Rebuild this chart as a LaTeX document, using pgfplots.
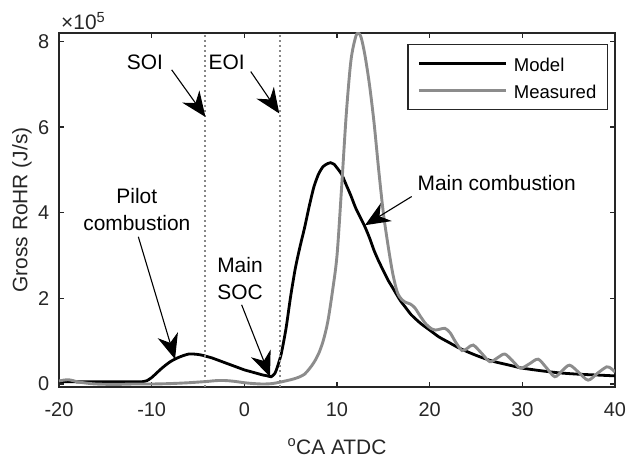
\documentclass[border=0pt]{standalone}
\usepackage{fontspec}
\setmainfont{Liberation Sans}
\usepackage{pgfplots}
\pgfplotsset{compat=1.18}
\usetikzlibrary{arrows.meta}
\definecolor{axc}{HTML}{262626}
\definecolor{meas}{RGB}{140,140,140}
\definecolor{dotc}{RGB}{135,135,135}
\begin{document}
\fontsize{21}{26.7}\selectfont
\begin{tikzpicture}
\useasboundingbox (-59bp,-77bp) rectangle (567bp,387bp);
\begin{axis}[
  scale only axis, width=556bp, height=354bp,
  xmin=-20, xmax=40, ymin=-0.07, ymax=8.2,
  xtick={-20,-10,...,40}, ytick={0,2,4,6,8},
  tick pos=both, tick align=inside, major tick length=5bp,
  axis line style={axc, line width=1.6bp},
  every tick/.style={axc, line width=1.4bp},
  /pgf/number format/assume math mode=true,
  ticklabel style={font=\fontsize{20}{24}\selectfont, text=axc},
  xticklabel style={yshift=-8.5bp},
  yticklabel style={xshift=-2.5bp},
  xlabel={\textsuperscript{o}CA ATDC},
  ylabel={Gross RoHR (J/s)},
  every axis x label/.style={at={(axis description cs:0.5,-0.168)}, anchor=center, font=\fontsize{21}{24}\selectfont, text=axc},
  every axis y label/.style={at={(axis description cs:-0.0665,0.5)}, anchor=center, rotate=90, font=\fontsize{21}{24}\selectfont, text=axc},
  legend cell align=left,
  legend style={at={(rel axis cs:0.988,0.969)}, anchor=north east, draw=axc, line width=1.4bp,
    inner xsep=9.3bp, inner ysep=6.7bp, row sep=1.8bp, column sep=4.3bp,
    font=\fontsize{18.6}{22}\selectfont,
    nodes={inner sep=2bp, text height=18bp, text depth=2.9bp}},
  legend image code/.code={\path (0bp,0bp) -- (87.4bp,0bp); \draw[#1, line width=2.8bp] (4.4bp,0bp) -- (87.4bp,0bp);},
  clip mode=individual,
]
% Model
\addplot[black, line width=2.8bp, smooth, tension=0.4] coordinates {
(-20,0.055) (-18,0.05) (-16,0.05) (-14,0.05) (-12,0.05) (-11,0.055) (-10.5,0.08)
(-10,0.15) (-9.5,0.25) (-9,0.35) (-8.5,0.44) (-8,0.52) (-7.5,0.58) (-7,0.63)
(-6.5,0.67) (-6,0.70) (-5.5,0.70) (-5,0.69) (-4.5,0.67) (-4,0.64) (-3.5,0.61)
(-3,0.57) (-2.5,0.53) (-2,0.49) (-1.5,0.45) (-1,0.41) (-0.5,0.37) (0,0.33)
(0.5,0.30) (1,0.27) (1.5,0.24) (2,0.21) (2.5,0.19) (2.9,0.17) (3.3,0.25)
(3.6,0.42) (4,0.72) (4.5,1.3) (5,2.05) (5.5,2.7) (6,3.2) (6.5,3.65) (7,4.15)
(7.5,4.6) (8,4.9) (8.5,5.08) (9,5.15) (9.3,5.17) (9.7,5.13) (10,5.05) (10.5,4.9)
(11,4.65) (11.5,4.4) (12,4.12) (12.5,3.9) (13,3.68) (13.5,3.42) (14,3.12)
(14.5,2.87) (15,2.65) (15.5,2.43) (16,2.25) (16.8,1.96) (17.5,1.76) (18,1.62)
(19,1.42) (20,1.26) (21,1.10) (22,0.98) (23,0.86) (24,0.76) (25,0.67) (26,0.59)
(27,0.52) (28,0.47) (29,0.42) (30,0.37) (32,0.31) (34,0.26) (36,0.23) (38,0.21) (40,0.19)
};
\addlegendentry{Model}
% Measured
\addplot[meas, line width=2.9bp, smooth, tension=0.5] coordinates {
(-20,0.07) (-19.5,0.09) (-19,0.10) (-18.5,0.08) (-18,0.05) (-17,0.02) (-16,0.0)
(-14,-0.01) (-12,0.0) (-10,0.0) (-8,0.01) (-6,0.03) (-4,0.06) (-3,0.08) (-2,0.08)
(-1,0.06) (0,0.03) (1,0.01) (2,0.0) (3,0.01) (4,0.05) (5,0.10) (5.5,0.13) (6,0.17)
(6.5,0.23) (7,0.35) (7.5,0.5) (8,0.7) (8.5,1.0) (9,1.45) (9.5,2.15) (10,3.0)
(10.5,4.6) (11,6.3) (11.5,7.55) (12,8.1) (12.3,8.2) (12.6,8.1) (13,7.7) (13.5,7.0)
(14,6.1) (14.5,5.0) (15,4.0) (15.5,3.25) (16,2.6) (16.5,2.15) (17,1.97) (17.5,1.9)
(17.9,1.87) (18.4,1.78) (19,1.58) (19.6,1.40) (20.2,1.29) (20.6,1.26) (21.1,1.28)
(21.65,1.30) (22.2,1.20) (22.8,0.98) (23.5,0.78) (24.1,0.84) (24.7,0.91) (25.6,0.72)
(26.5,0.52) (27.3,0.61) (28.1,0.70) (28.95,0.54) (29.8,0.37) (30.75,0.47) (31.7,0.58)
(32.6,0.38) (33.5,0.17) (34.3,0.31) (35.1,0.44) (36.1,0.27) (37.1,0.09) (38.1,0.25)
(39.1,0.40) (39.6,0.36) (40,0.28)
};
\addlegendentry{Measured}
% SOI / EOI dotted lines
\addplot[dotc, line width=2bp, dash pattern=on 2.2bp off 2.8bp, forget plot] coordinates {(-4.2,-0.07) (-4.2,8.2)};
\addplot[dotc, line width=2bp, dash pattern=on 2.2bp off 2.8bp, forget plot] coordinates {(3.8,-0.07) (3.8,8.2)};
% annotations
\tikzset{ann/.style={black, line width=1.1bp, -{Stealth[length=25bp, width=21bp, inset=8bp]}}}
\draw[ann] (axis cs:-7.84,7.34) -- (axis cs:-4.2,6.24);
\draw[ann] (axis cs:0.69,7.30) -- (axis cs:3.77,6.32);
\draw[ann] (axis cs:-11.44,3.44) -- (axis cs:-7.48,0.58);
\draw[ann] (axis cs:-0.29,1.85) -- (axis cs:2.77,0.17);
\draw[ann] (axis cs:18.06,4.38) -- (axis cs:13.02,3.71);
\node[anchor=center, font=\fontsize{21}{26.7}\selectfont] at (axis cs:-10.72,7.52) {SOI};
\node[anchor=center, font=\fontsize{21}{26.7}\selectfont] at (axis cs:-1.90,7.52) {EOI};
\node[anchor=center, align=center, font=\fontsize{21}{26.7}\selectfont] at (axis cs:-11.6,4.07) {Pilot\\combustion};
\node[anchor=center, align=center, font=\fontsize{21}{26.7}\selectfont] at (axis cs:-0.47,2.47) {Main\\SOC};
\node[anchor=center, font=\fontsize{21}{26.7}\selectfont] at (axis cs:27.23,4.69) {Main combustion};
\node[anchor=base west, text=axc, inner sep=0pt, font=\fontsize{21}{24}\selectfont] at ([xshift=2bp, yshift=3bp]rel axis cs:0,1) {×10\textsuperscript{5}};
\end{axis}
\end{tikzpicture}
\end{document}
